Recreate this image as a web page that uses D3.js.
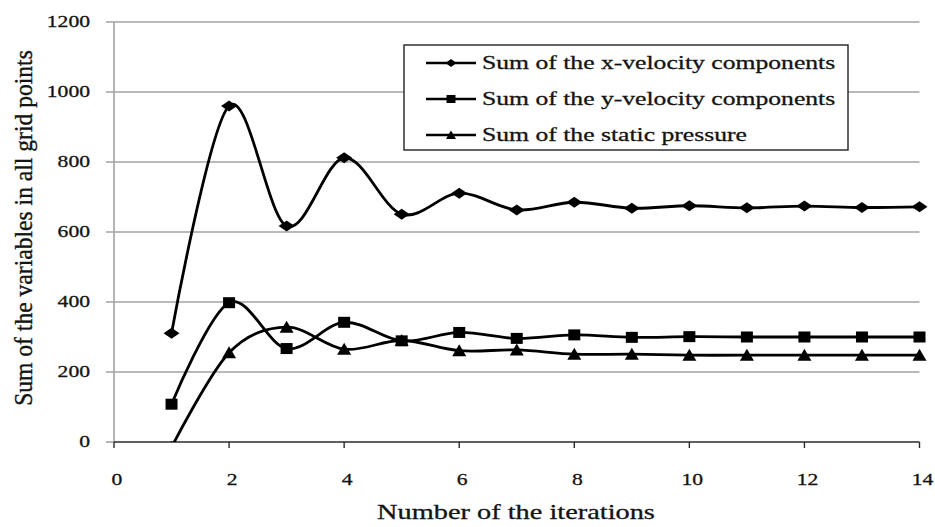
<!DOCTYPE html>
<html>
<head>
<meta charset="utf-8">
<script src="https://cdn.jsdelivr.net/npm/d3@7/dist/d3.min.js"></script>
<style>
  body { margin: 0; background: #fff; }
  text { font-family: "Liberation Serif", "Times New Roman", serif; fill: #141414; stroke: #141414; stroke-width: 0.3px; }
</style>
</head>
<body>
<svg id="chart" width="935" height="527"></svg>
<script>
// data
const iterations = [1, 2, 3, 4, 5, 6, 7, 8, 9, 10, 11, 12, 13, 14];
const xVelocity = [311, 960, 617, 812, 651, 711, 663, 685, 668, 675, 669, 674, 670, 672];
const yVelocity = [108, 398, 267, 342, 289, 313, 296, 306, 299, 301, 300, 300, 300, 300];
const staticPressure = [-15, 255, 328, 265, 290, 261, 263, 251, 251, 248, 248, 248, 248, 248];
const xTicks = [0, 2, 4, 6, 8, 10, 12, 14];
const yTicks = [0, 200, 400, 600, 800, 1000, 1200];
const seriesNames = [
  "Sum of the x-velocity components",
  "Sum of the y-velocity components",
  "Sum of the static pressure"
];

// set the dimensions of the plot area
// (window.top is read-only, so no bare "top" here)
var plot = {left: 114, right: 919.5, top: 22, bottom: 442};
var stretch = 1.35; // the picture is widened, so text is stretched sideways

var svg = d3.select("#chart");

var x = d3.scaleLinear().domain([0, 14]).range([plot.left, plot.right]);
var y = d3.scaleLinear().domain([0, 1200]).range([plot.bottom, plot.top]);

// gridlines + y ticks
svg.append("g")
  .selectAll("line")
  .data(yTicks)
  .join("line")
    .attr("x1", plot.left - 8)
    .attr("x2", d => d === 0 ? plot.left : plot.right)
    .attr("y1", d => y(d))
    .attr("y2", d => y(d))
    .attr("stroke", "#a3a3a3")
    .attr("stroke-width", 1.6);

// y axis line
svg.append("line")
  .attr("x1", plot.left).attr("x2", plot.left)
  .attr("y1", y(1200)).attr("y2", y(0))
  .attr("stroke", "#a3a3a3")
  .attr("stroke-width", 1.6);

// x axis line and ticks
svg.append("line")
  .attr("x1", plot.left).attr("x2", plot.right)
  .attr("y1", y(0)).attr("y2", y(0))
  .attr("stroke", "#2a2a2a")
  .attr("stroke-width", 1.6);
svg.append("g")
  .selectAll("line")
  .data(xTicks)
  .join("line")
    .attr("x1", d => x(d)).attr("x2", d => x(d))
    .attr("y1", y(0)).attr("y2", y(0) + 6)
    .attr("stroke", "#2a2a2a")
    .attr("stroke-width", 1.4);

// y tick labels
svg.append("g")
  .selectAll("text")
  .data(yTicks)
  .join("text")
    .attr("transform", d => "translate(90," + y(d) + ") scale(" + stretch + ",1)")
    .attr("text-anchor", "end")
    .attr("dy", "0.34em")
    .style("font-size", "16px")
    .text(d => d);

// x tick labels
svg.append("g")
  .selectAll("text")
  .data(xTicks)
  .join("text")
    .attr("transform", d => "translate(" + (x(d) + 3) + ",485) scale(" + stretch + ",1)")
    .attr("text-anchor", "middle")
    .style("font-size", "16px")
    .text(d => d);

// axis titles
svg.append("text")
  .attr("transform", "translate(516,519) scale(" + stretch + ",1)")
  .attr("text-anchor", "middle")
  .style("font-size", "21px")
  .text("Number of the iterations");

svg.append("text")
  .attr("transform", "translate(32,228) rotate(-90) scale(1.18,1.25)")
  .attr("text-anchor", "middle")
  .style("font-size", "20px")
  .text("Sum of the variables in all grid points");

// markers, widened like the rest of the picture
var markerPaths = {
  diamond: "M0,-5.5L8,0L0,5.5L-8,0Z",
  square: "M-6,-5.5H6V5.5H-6Z",
  triangle: "M0,-6.5L7,5.5H-7Z"
};
var legendMarkerPaths = {
  diamond: "M0,-4L5.5,0L0,4L-5.5,0Z",
  square: "M-4.5,-4H4.5V4H-4.5Z",
  triangle: "M0,-4.5L5,4H-5Z"
};

var series = [
  {name: seriesNames[0], values: xVelocity, shape: "diamond"},
  {name: seriesNames[1], values: yVelocity, shape: "square"},
  {name: seriesNames[2], values: staticPressure, shape: "triangle"}
];

svg.append("clipPath").attr("id", "plot-clip")
  .append("rect")
    .attr("x", plot.left - 10).attr("y", 0)
    .attr("width", plot.right - plot.left + 20).attr("height", plot.bottom);

var marks = svg.append("g").attr("clip-path", "url(#plot-clip)");

var line = d3.line()
  .curve(d3.curveCardinal.tension(0))
  .x((d, i) => x(iterations[i]))
  .y(d => y(d));

series.forEach(function(s) {
  marks.append("path")
    .datum(s.values)
    .attr("fill", "none")
    .attr("stroke", "#000")
    .attr("stroke-width", 2.8)
    .attr("stroke-linejoin", "round")
    .attr("d", line);

  marks.append("g")
    .selectAll("path")
    .data(s.values)
    .join("path")
      .attr("transform", (d, i) => "translate(" + x(iterations[i]) + "," + y(d) + ")")
      .attr("d", markerPaths[s.shape])
      .attr("fill", "#000");
});

// Handmade legend
var legend = svg.append("g");
legend.append("rect")
  .attr("x", 404).attr("y", 45)
  .attr("width", 444).attr("height", 105)
  .attr("fill", "#fff")
  .attr("stroke", "#222")
  .attr("stroke-width", 1.4);

var rowY = [63, 99, 135];
series.forEach(function(s, i) {
  var g = legend.append("g").attr("transform", "translate(0," + rowY[i] + ")");
  g.append("line")
    .attr("x1", 426).attr("x2", 476)
    .attr("stroke", "#000").attr("stroke-width", 2.4);
  g.append("path")
    .attr("transform", "translate(451,0)")
    .attr("d", legendMarkerPaths[s.shape])
    .attr("fill", "#000");
  g.append("text")
    .attr("transform", "translate(482,6) scale(" + stretch + ",1)")
    .style("font-size", "19px")
    .text(s.name);
});
</script>
</body>
</html>
